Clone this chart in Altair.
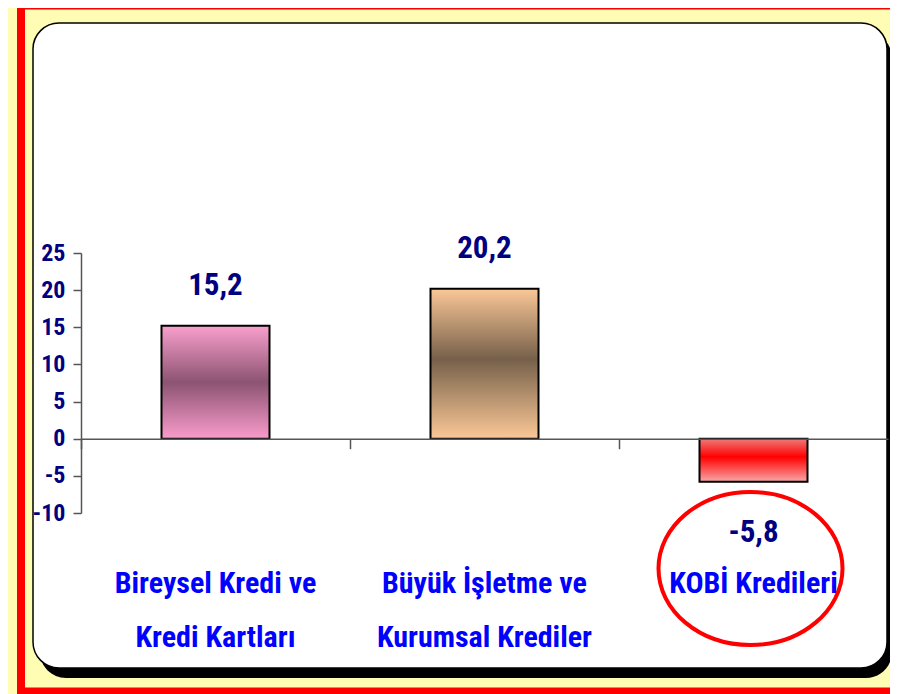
import altair as alt
import pandas as pd

categories = ["Bireysel Kredi ve\nKredi Kartları", "Büyük İşletme ve\nKurumsal Krediler", "KOBİ Kredileri"]
values = [15.2, 20.2, -5.8]
y_ticks = [-10, -5, 0, 5, 10, 15, 20, 25]

df = pd.DataFrame({"cat": categories, "value": values})
df["label"] = [f"{v:.1f}".replace(".", ",") for v in values]
df["idx"] = range(len(categories))

FONT = "Roboto Condensed, Liberation Sans Narrow, Arial Narrow, Roboto, sans-serif"
one = alt.Data(values=[{"a": 1}])

x_enc = alt.X(
    "cat:N", sort=categories, title=None,
    scale=alt.Scale(paddingInner=0, paddingOuter=0),
    axis=alt.Axis(orient="bottom", offset=-74.29, labels=False, title=None,
                  domainColor="#555555", domainWidth=1.5, tickColor="#555555",
                  tickWidth=1.5, tickSize=10, bandPosition=0, zindex=1),
)
y_enc = alt.Y(
    "value:Q", title=None,
    scale=alt.Scale(domain=[-10, 25], nice=False, zero=False),
    axis=alt.Axis(values=y_ticks, grid=False, domainColor="#555555", domainWidth=1.5,
                  tickColor="#555555", tickWidth=1.5, tickSize=8, labelFont=FONT,
                  labelFontSize=24, labelFontWeight="bold", labelColor="#000080",
                  labelPadding=8, zindex=1, labelExpr="'' + datum.value"),
)

red_frame = alt.Chart(one).mark_rect(fill=None, stroke="#ff0000", strokeWidth=8).encode(
    x=alt.value(-60), x2=alt.value(824), y=alt.value(-247.5), y2=alt.value(438.5))
shadow = alt.Chart(one).mark_rect(fill="#000000", cornerRadius=26).encode(
    x=alt.value(-41), x2=alt.value(811), y=alt.value(-221), y2=alt.value(425))
panel = alt.Chart(one).mark_rect(fill="#ffffff", stroke="#000000", strokeWidth=1.5,
                                 cornerRadius=26).encode(
    x=alt.value(-48), x2=alt.value(806), y=alt.value(-230), y2=alt.value(415))

base = alt.Chart(df)

grads = [
    [("#f9a0cc", 0), ("#8c5372", 0.5), ("#f99ccb", 1)],
    [("#fbc897", 0), ("#76604a", 0.47), ("#fbc897", 1)],
    [("#f07a7a", 0), ("#ff0000", 0.42), ("#f8a8a8", 1)],
]
bars = []
for i, g in enumerate(grads):
    grad = alt.Gradient(gradient="linear", x1=0, y1=0, x2=0, y2=1,
                        stops=[alt.GradientStop(color=c, offset=o) for c, o in g])
    bars.append(
        base.transform_filter(alt.datum.idx == i)
        .mark_bar(size=108, color=grad, stroke="#000000", strokeWidth=2)
        .encode(x=x_enc, y=y_enc, y2=alt.datum(0))
    )

pos_labels = base.transform_filter(alt.datum.value >= 0).mark_text(
    font=FONT, fontSize=31, fontWeight="bold", color="#000080",
    baseline="alphabetic", dy=-31).encode(x=x_enc, y=y_enc, text="label:N")
neg_labels = base.transform_filter(alt.datum.value < 0).mark_text(
    font=FONT, fontSize=31, fontWeight="bold", color="#000080",
    baseline="alphabetic", dy=60).encode(x=x_enc, y=y_enc, text="label:N")

cat_labels = base.mark_text(
    font=FONT, fontSize=30, fontWeight="bold", color="#0000ff",
    baseline="alphabetic", lineBreak="\n", lineHeight=54).encode(
    x=x_enc, y=alt.value(340), text="cat:N")

ellipse = alt.Chart(one).mark_point(
    shape="M -1 0 A 1 0.832 0 1 0 1 0 A 1 0.832 0 1 0 -1 0 Z",
    size=33856, filled=False, stroke="#ff0000", strokeWidth=4, opacity=1).encode(
    x=alt.value(669.5), y=alt.value(315.5))

chart = alt.layer(
    red_frame, shadow, panel, *bars, pos_labels, neg_labels, cat_labels, ellipse
).properties(
    width=807, height=260,
    autosize=alt.AutoSizeParams(type="none"),
    padding={"left": 73, "top": 245, "right": 2, "bottom": 181},
    background="#fffcb4",
).configure_view(stroke=None)

chart.save("out.html", embed_options={"renderer": "svg", "actions": False})
